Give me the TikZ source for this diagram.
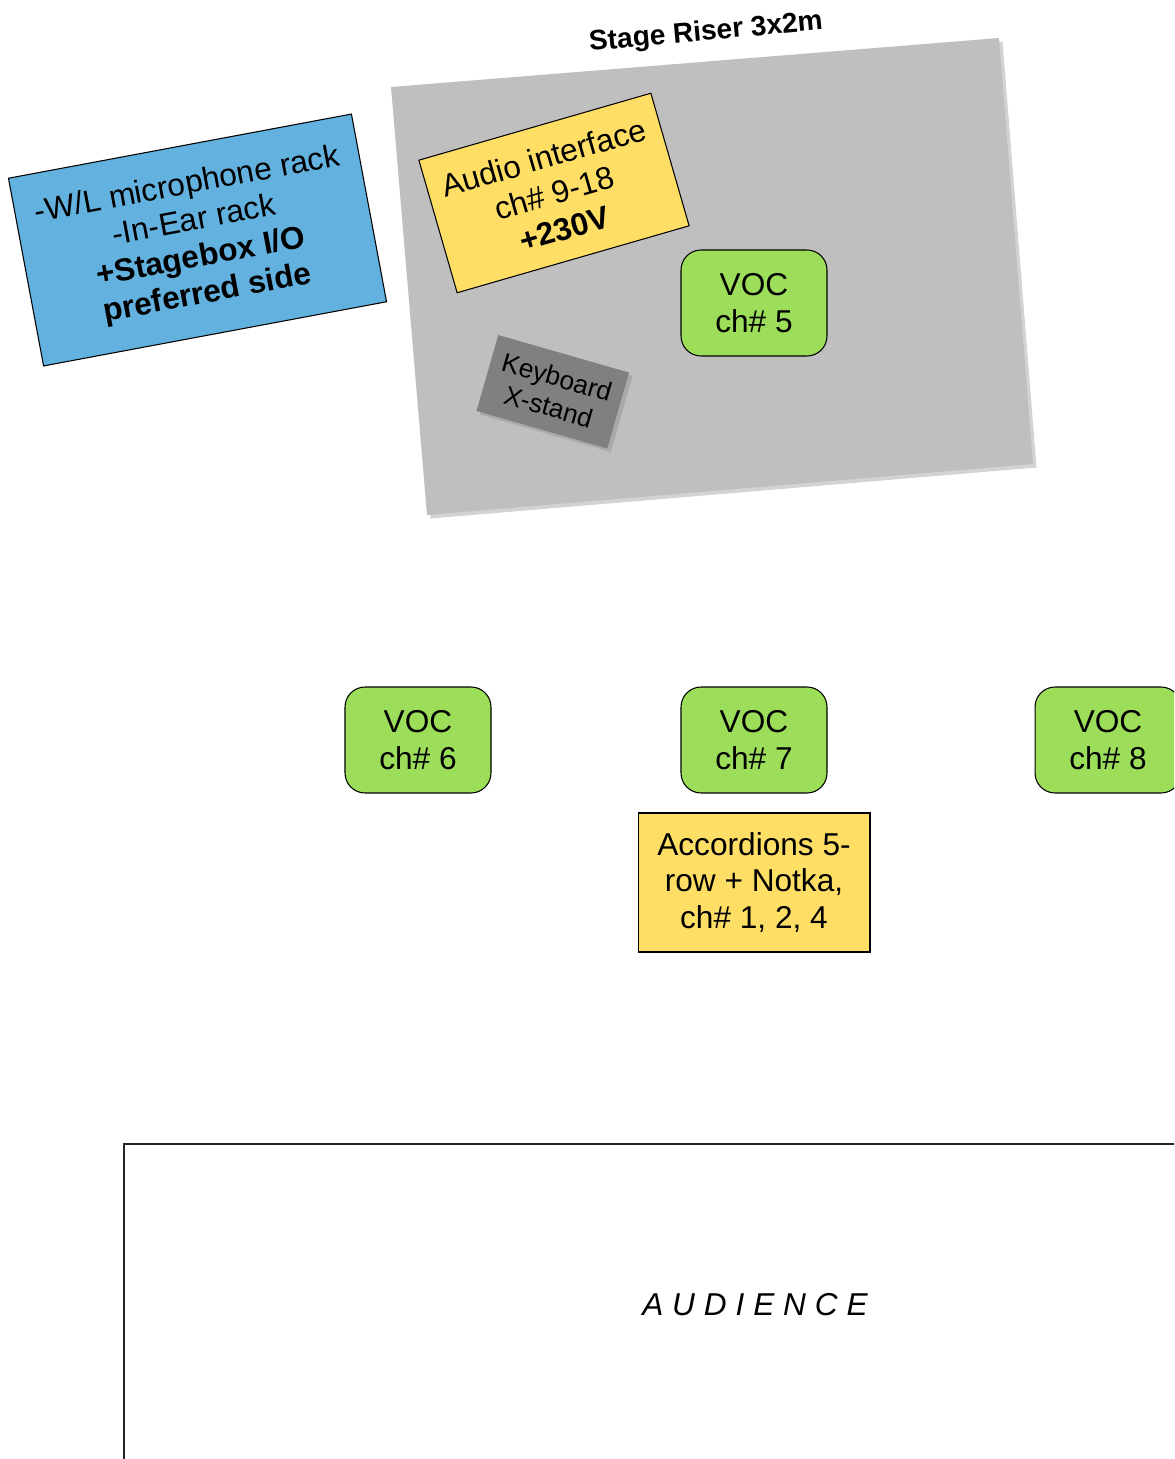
\documentclass[tikz,border=0pt]{standalone}
\usepackage{fontspec}
\setmainfont{Liberation Sans}
\usetikzlibrary{shadows}
\definecolor{riserGray}{RGB}{191,191,191}
\definecolor{standGray}{RGB}{128,128,128}
\definecolor{rackBlue}{RGB}{99,177,223}
\definecolor{noteYellow}{RGB}{255,222,102}
\definecolor{vocGreen}{RGB}{156,222,90}
\tikzset{
	vocbox/.style={draw=black, fill=vocGreen, line width=0.6pt, rounded corners=0.4cm,
		minimum width=2.92cm, minimum height=2.12cm, inner sep=0pt, align=center},
	notebox/.style={draw=black, fill=noteYellow, line width=0.6pt,
		inner sep=0pt, align=center},
}
\begin{document}
\begin{tikzpicture}[x=0.02cm,y=-0.02cm]
		\newcommand{\mylabelfont}{%
			\fontsize{18}{21}\selectfont%
		}\newcommand{\mytitlefont}{%
			\fontsize{16}{19}\selectfont\bfseries%
		}\newcommand{\mystandfont}{%
			\fontsize{15}{17.5}\selectfont%
		}%Page frame
		\clip (0,0) rectangle (1174,1459);
		%Stage riser, a tilted grey plate
		\coordinate (riserTL) at (391,87);
		\coordinate (riserTR) at (999,38);
		\coordinate (riserBR) at (1033,464);
		\coordinate (riserBL) at (427,515);
		\fill [riserGray, drop shadow={opacity=0.35, shadow xshift=2pt, shadow yshift=-2pt}]
			(riserTL) -- (riserTR) -- (riserBR) -- (riserBL) -- cycle;
		\coordinate (riserTitle) at (706,33);
		\node (title) [rotate=5.2, font=\mytitlefont] at (riserTitle) {Stage Riser 3x2m};
		%Racks beside the riser
		\coordinate (rackCenter) at (197.5,240);
		\node (rack) [draw=black, fill=rackBlue, line width=0.6pt, rotate=10.6,
			minimum width=6.98cm, minimum height=3.82cm, inner sep=0pt, align=center,
			font=\mylabelfont] at (rackCenter)
			{-W/L microphone rack\\-In-Ear rack\\\textbf{+Stagebox I/O}\\\textbf{preferred side}};
		%Things on the riser
		\coordinate (audioCenter) at (554,193);
		\node (audio) [notebox, rotate=16.1, minimum width=4.83cm, minimum height=2.76cm,
			font=\mylabelfont] at (audioCenter) {Audio interface\\ch\# 9-18\\\textbf{+230V}};
		\coordinate (keyCenter) at (552.75,391.75);
		\node (keyboard) [fill=standGray, rotate=-16, minimum width=2.72cm, minimum height=1.58cm,
			inner sep=0pt, align=center, font=\mystandfont,
			drop shadow={opacity=0.35, shadow xshift=2pt, shadow yshift=-2pt}]
			at (keyCenter) {Keyboard\\X-stand};
		\coordinate (voc5) at (754,303);
		\node (v5) [vocbox, font=\mylabelfont] at (voc5) {VOC\\ch\# 5};
		%Front line of vocals
		\coordinate (voc6) at (418,740);
		\coordinate (voc7) at (754,740);
		\coordinate (voc8) at (1108,740);
		\node (v6) [vocbox, font=\mylabelfont] at (voc6) {VOC\\ch\# 6};
		\node (v7) [vocbox, font=\mylabelfont] at (voc7) {VOC\\ch\# 7};
		\node (v8) [vocbox, font=\mylabelfont] at (voc8) {VOC\\ch\# 8};
		%Accordions
		\coordinate (accCenter) at (754,882.5);
		\node (acc) [notebox, minimum width=4.64cm, minimum height=2.78cm,
			font=\mylabelfont] at (accCenter) {Accordions 5-\\row + Notka,\\ch\# 1, 2, 4};
		%Audience area
		\coordinate (audTL) at (124,1144);
		\coordinate (audFar) at (1300,1600);
		\draw [black!85, line width=0.7pt] (audTL) rectangle (audFar);
		\coordinate (audCenter) at (755,1305);
		\node (audience) [font=\mylabelfont\itshape\addfontfeature{LetterSpace=28}] at (audCenter) {AUDIENCE};
\end{tikzpicture}
\end{document}
